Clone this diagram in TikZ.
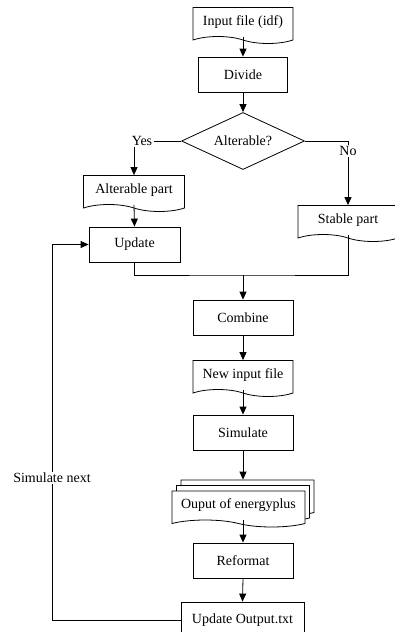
\documentclass[tikz,border=0pt]{standalone}
\usepackage{fontspec}
\setmainfont{Liberation Serif}
\usetikzlibrary{arrows.meta,shapes.geometric,shapes.symbols,shadows}

\begin{document}
\begin{tikzpicture}[
    x = 1pt, y = -1pt,
    > = {Triangle[length=8pt, width=7pt]},
    line width = 0.8pt,
    font = \fontsize{14}{16}\selectfont,
    proc/.style={rectangle, draw, minimum width=100pt, minimum height=35pt, inner sep=2pt},
    doc/.style={tape, draw, fill=white, tape bend top=none, tape bend bottom=out and in,
                tape bend height=7pt, minimum width=100pt, minimum height=36pt, inner sep=2pt},
    decide/.style={diamond, draw, minimum width=123pt, minimum height=57pt, inner sep=0pt, aspect=2.16},
    note/.style={inner sep=1pt}
]
    \useasboundingbox (0,0) rectangle (395,632);

    \node[doc] (input) at (243,22) {Input file (idf)};
    \node[proc, minimum width=89pt] (divide) at (243,74.5) {Divide};
    \node[decide] (choice) at (243,141) {Alterable?};
    \node[note] (yes) at (142,141) {Yes};
    \node[note] (no) at (348,151) {No};
    \node[doc, minimum width=101pt] (alt) at (134,190) {Alterable part};
    \node[doc] (stable) at (348,220) {Stable part};
    \node[proc, minimum width=91pt] (update) at (134.5,244.5) {Update};
    \coordinate (join) at (243,275);
    \node[proc] (combine) at (243,317.5) {Combine};
    \node[doc] (newin) at (243,375) {New input file};
    \node[proc] (sim) at (243,432.5) {Simulate};
    \node[doc, minimum width=133pt, double copy shadow={shadow xshift=4.5pt, shadow yshift=5.5pt}]
        (output) at (238.5,505.5) {Ouput of energyplus};
    \coordinate (outtop) at ([yshift=11pt]output.north);
    \node[proc] (reformat) at (243,560.5) {Reformat};
    \node[proc, minimum width=123pt, minimum height=36pt] (upout) at (242.5,620) {Update Output.txt};
    \node[note] (fbnote) at (52,478) {Simulate next};

    % main flow
    \draw[->] (input.south) -- (divide.north);
    \draw[->] (divide.south) -- (choice.north);
    \draw (choice.west) -- (yes.east);
    \draw[->] (alt.north |- yes.south) -- (alt.north);
    \draw (choice.east) -| (no.north);
    \draw[->] (no.south) -- (stable.north);
    \draw[->] (alt.south) -- (update.north);
    \draw (update.south) |- (join) -| (stable.south);
    \draw[->] (join) -- (combine.north);
    \draw[->] (combine.south) -- (newin.north);
    \draw[->] (newin.south) -- (sim.north);
    \draw[->] (sim.south) -- (sim.south |- outtop);
    \draw[->] (reformat.north |- output.south) -- (reformat.north);
    \draw[->] (reformat.south) -- (upout.north);

    % loop back
    \draw (upout.west) -| (fbnote.south);
    \draw[->] (fbnote.north) |- (update.west);
\end{tikzpicture}
\end{document}
